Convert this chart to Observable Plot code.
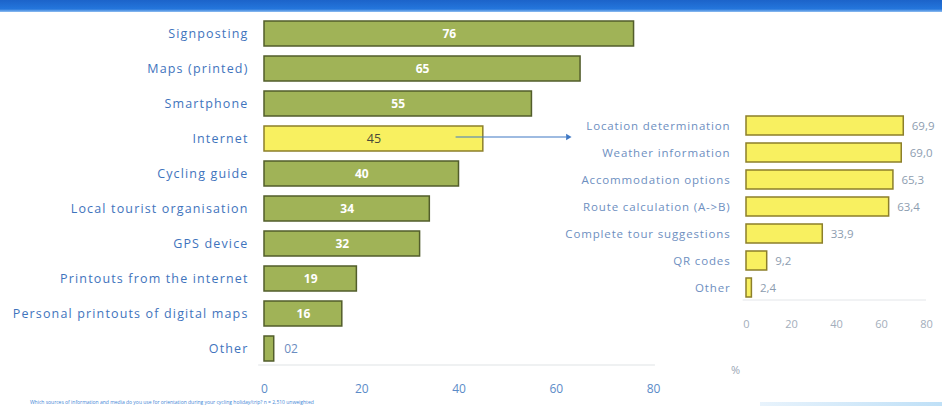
<!DOCTYPE html>
<html>
<head>
<meta charset="utf-8">
<script src="https://cdn.jsdelivr.net/npm/d3@7"></script>
<script src="https://cdn.jsdelivr.net/npm/@observablehq/plot@0.6"></script>
<style>
  html, body { margin: 0; padding: 0; background: #fff; }
  #wrap { position: relative; width: 942px; height: 406px; overflow: hidden; background: #fff; font-family: "Open Sans", sans-serif; }
  #header { position: absolute; left: 0; top: 0; width: 942px; height: 12px;
    background: linear-gradient(to bottom, #1c63c9 0%, #2476dc 75%, #8fbdf0 100%); }
  .layer { position: absolute; left: 0; top: 0; width: 942px; height: 406px; }
  .layer svg { position: absolute; left: 0; top: 0; max-width: none !important; }
  #left svg g[aria-label="y-axis tick label"] text { letter-spacing: 1.15px; }
  #right svg g[aria-label="y-axis tick label"] text { letter-spacing: 0.85px; }
  #foot { position: absolute; left: 30px; top: 399px; font-size: 5px; color: #3f86d6; white-space: nowrap; }
  #pct { position: absolute; left: 731px; top: 362px; font-size: 11px; color: #9aa6b4; }
  #band2 { position: absolute; left: 760px; top: 402px; width: 182px; height: 4px; background: linear-gradient(to right, #e8f3fc, #bfe0f7); }
  #err { position: absolute; left: 10px; top: 40px; color: red; font-size: 12px; white-space: pre-wrap; width: 900px; }
</style>
</head>
<body>
<div id="wrap">
  <div id="header"></div>
  <div id="left" class="layer"></div>
  <div id="right" class="layer"></div>
  <div id="pct">%</div>
  <div id="foot">Which sources of information and media do you use for orientation during your cycling holiday/trip? n = 2,510 unweighted</div>
  <div id="band2"></div>
  <div id="err"></div>
</div>
<script>
// ---- data ----
const categories = ["Signposting", "Maps (printed)", "Smartphone", "Internet", "Cycling guide",
  "Local tourist organisation", "GPS device", "Printouts from the internet",
  "Personal printouts of digital maps", "Other"];
const values = [76, 65, 55, 45, 40, 34, 32, 19, 16, 2];
const valueLabels = ["76", "65", "55", "45", "40", "34", "32", "19", "16", "02"];
const highlighted = "Internet";

const internetUses = ["Location determination", "Weather information", "Accommodation options",
  "Route calculation (A->B)", "Complete tour suggestions", "QR codes", "Other"];
const internetValues = [69.9, 69.0, 65.3, 63.4, 33.9, 9.2, 2.4];

const xTicks = [0, 20, 40, 60, 80];

try {
const main = categories.map((c, i) => ({cat: c, value: values[i], label: valueLabels[i], hi: c === highlighted}));
const sub = internetUses.map((c, i) => ({cat: c, value: internetValues[i], label: internetValues[i].toFixed(1).replace(".", ",")}));

const green = "#a0b357", greenStroke = "#525d2b";
const yellow = "#f8f060", yellowStroke = "#8c7f2a";
const arrowBlue = "#3f78c4";

const left = Plot.plot({
  width: 700, height: 400,
  marginLeft: 264, marginRight: 47, marginTop: 16.85, marginBottom: 35,
  style: {background: "transparent", fontFamily: "Open Sans, sans-serif", overflow: "visible"},
  x: {domain: [0, 80]},
  y: {domain: categories, paddingInner: 0.28, paddingOuter: 0.1},
  marks: [
    Plot.ruleY(["Other"], {y: d => d, dy: 16, x1: -1.2, x2: 80.4, stroke: "#dfe3e6", strokeWidth: 1.2}),
    Plot.barX(main, {y: "cat", x: "value", fill: d => d.hi ? yellow : green, stroke: d => d.hi ? yellowStroke : greenStroke, strokeWidth: 1.5}),
    Plot.text(main.filter(d => !d.hi && d.value > 5), {y: "cat", x: d => d.value / 2, text: "label", fill: "white", fontWeight: "bold", fontSize: 12}),
    Plot.text(main.filter(d => d.hi), {y: "cat", x: d => d.value / 2, text: "label", fill: "#4a4a3a", fontSize: 12.5}),
    Plot.text(main.filter(d => d.value <= 5), {y: "cat", x: "value", dx: 10, textAnchor: "start", text: "label", fill: "#6b8cc0", fontSize: 12}),
    Plot.link([{y: highlighted}], {y1: "y", y2: "y", x1: () => 39.3, x2: () => 62, dy: -2, stroke: arrowBlue, strokeWidth: 1.1}),
    Plot.dot([{y: highlighted}], {y: "y", x: () => 62.4, dy: -2, symbol: "triangle2", rotate: 90, r: 3, fill: arrowBlue, stroke: "none"}),
    Plot.axisY({tickSize: 0, tickPadding: 16, fill: "#3f74bd", fontSize: 12.5, label: null}),
    Plot.axisX({ticks: xTicks, tickSize: 0, tickPadding: 19, fill: "#5b8bc8", fontSize: 12, label: null})
  ]
});
document.getElementById("left").appendChild(left);

const right = Plot.plot({
  width: 942, height: 406,
  marginLeft: 746, marginRight: 16, marginTop: 113.3, marginBottom: 106,
  style: {background: "transparent", fontFamily: "Open Sans, sans-serif", overflow: "visible"},
  x: {domain: [0, 80]},
  y: {domain: internetUses, paddingInner: 0.31, paddingOuter: 0.05},
  marks: [
    Plot.ruleY(["Other"], {y: d => d, dy: 12, x1: -1.5, x2: 80, stroke: "#e3e6e9", strokeWidth: 1}),
    Plot.barX(sub, {y: "cat", x: "value", fill: yellow, stroke: yellowStroke, strokeWidth: 1.5}),
    Plot.text(sub, {y: "cat", x: "value", dx: 8, textAnchor: "start", text: "label", fill: "#8d9db0", fontSize: 11.5}),
    Plot.axisY({tickSize: 0, tickPadding: 16, fill: "#6e8fbf", fontSize: 11.5, label: null}),
    Plot.axisX({ticks: xTicks, tickSize: 0, tickPadding: 20, fill: "#a3aebb", fontSize: 11, label: null})
  ]
});
document.getElementById("right").appendChild(right);
} catch (e) {
  document.getElementById("err").textContent = String(e) + "\n" + (e.stack || "");
}
</script>
</body>
</html>
